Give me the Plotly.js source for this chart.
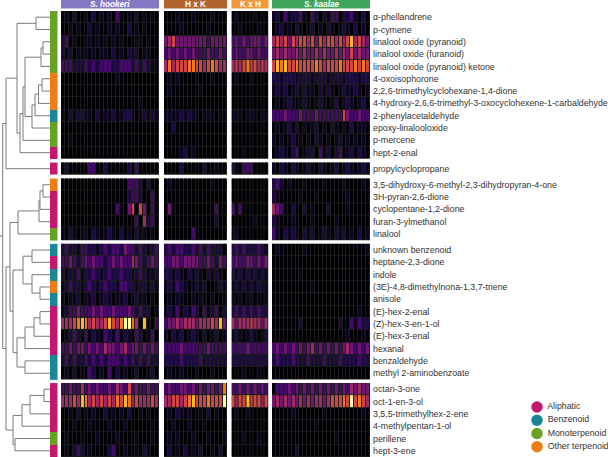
<!DOCTYPE html>
<html><head><meta charset="utf-8">
<script src="https://cdn.plot.ly/plotly-3.0.1.min.js"></script>
<style>html,body{margin:0;padding:0;background:#fff}#chart{width:608px;height:457px}</style>
</head><body><div id="chart"></div>
<script>
const compounds = [
 'α-phellandrene','p-cymene','linalool oxide (pyranoid)','linalool oxide (furanoid)','linalool oxide (pyranoid) ketone',
 '4-oxoisophorone','2,2,6-trimethylcyclohexane-1,4-dione','4-hydroxy-2,6,6-trimethyl-3-oxocyclohexene-1-carbaldehyde',
 '2-phenylacetaldehyde','epoxy-linalooloxide','p-mercene','hept-2-enal',
 'propylcyclopropane',
 '3,5-dihydroxy-6-methyl-2,3-dihydropyran-4-one','3H-pyran-2,6-dione','cyclopentane-1,2-dione','furan-3-ylmethanol','linalool',
 'unknown benzenoid','heptane-2,3-dione','indole','(3E)-4,8-dimethylnona-1,3,7-triene','anisole','(E)-hex-2-enal',
 '(Z)-hex-3-en-1-ol','(E)-hex-3-enal','hexanal','benzaldehyde','methyl 2-aminobenzoate',
 'octan-3-one','oct-1-en-3-ol','3,5,5-trimethylhex-2-ene','4-methylpentan-1-ol','perillene','hept-3-ene'
];
const rowGroupSizes = [12,1,5,11,6];
const categories = ['Aliphatic','Benzenoid','Monoterpenoid','Other terpenoid'];
const categoryColors = ['#c4166f','#1a8696','#68a124','#ef7d16'];
const compoundCategory = [2,2,2,2,2,3,3,3,1,2,2,0, 0, 3,0,0,0,2, 1,0,1,3,1,0,0,0,0,1,1, 0,0,0,0,2,0];
const panels = ['S. hookeri','H x K','K x H','S. kaalae'];
const panelItalic = [true,false,false,true];
const panelColors = ['#8577c4','#b0652f','#f3993c','#3ea55a'];

// intensity levels 0-9, one character per sample column
const hookeriLevels = [
 '0102001020101030010201010','0010100201001010020101000','2301001101010101000110100','2120111010110201021201100',
 '3332223232333223332323211','0000000000000010000000000','0000000000000000000000000','0000000000000000000010000',
 '1021221102011201221012121','0000000000000000000000000','0010000000000000000000000','0000000000000000000000000',
 '0200000330020000020300000',
 '0000000000000000033320200','0000000000000000023320030','0000000000000030046064030','0000000000000000000305230',
 '1021011021012102010211010',
 '2322133221232332433232123','3343234343323434335432343','2122312232123223221232112','1232212321232213322122121',
 '1011201120121011201211010','1233433343433433343232201','5556787565568657997508103','0123213021032130210320130',
 '3343443434354434534434343','2323223232323332323232322','0102010320103020100200120',
 '3343353434334354363433433','5556587565656576875655565','0010201010020101020010100','0001000100001000100000010',
 '0100010001000010000100010','0102320100002300100102100'
];
const hxkLevels = [
 '0001000100001000','0000100000010000','4564444444434444','3434343433343343','5756667766567655',
 '0101000010001000','0100000001000000','0000000000000000','1111212110111011','0020000000000000',
 '0000000000000000','0000120100000000',
 '0000200000200100',
 '0100000000001000','0000000000000000','0400000000000300','0000000000000200','0000000300000000',
 '2323322323232220','3344344443343243','2212102121021210','1213210121200121','0101100101101001',
 '1213021320312302','3445455545556584','1021201210201201','3333433333343333','2222322223222222','0100100010001000',
 '3433443434344347','5566567866676669','0102101001020100','0010001000100000','0101000100010001','0201020102001020'
];
const kxhLevels = [
 '0100001000','0010000100','3434344434','3433443433','5656766565',
 '0100010000','0000000000','0000000000','1110111011','0000000000','0000000000','0001000000',
 '2003330000',
 '0000000000','0000000000','3030000000','0000001000','1100000000',
 '2323222321','3433443434','2121212121','1212121211','1010110101','2323232322','5455565545',
 '1210121012','3333433333','2222222222','0001000100',
 '3343434343','6566866656','0100100000','0000000000','0001000100','0000000000'
];
const kaalaeLevels = [
 '1203122310320213302231020','0120102101201021012102010','5656465665646566565685654','4545445454454544545464544',
 '6878667666676566676667676','2212221222122212221222122','1212012121102121012112101','0101210121012101201210120',
 '3334333433343333336433433','0101202010120102101020110','1010120101021010120101010','0121023012203120230120210',
 '1021021012102101201210121',
 '2310100010000100001000010','2100000100010000000100000','5430020020100020000100000','2100010000100000100000000',
 '3102121021201210212010201',
 '0100000010000000000000001','0000000000000000000000000','0000000100000000000000000','0000000000100000000000000',
 '0000000000000000000000000','0000000000000000000000100','0000000200000000020031322','0000000000000000000100010',
 '3434343434534343434543434','2322232223222322232222322','0000000000000000000000000',
 '0333434343434343434354544','4545454545455456667696765','0000010000000100000000010','0000000000010000000000000',
 '0000000000000000100000000','0000002000000000000000000'
];
const panelLevels = [hookeriLevels, hxkLevels, kxhLevels, kaalaeLevels];
const panelCols = [25,16,10,25];

// dendrogram merges: [childA, childB, height]; leaves 0-34, merge k => node 35+k
const dendroMerges = [
 [0,1,14],[2,3,7],[36,4,9],[5,6,8],[38,7,11.5],[39,8,15],[40,9,18],[37,41,25],[42,10,27],[43,11,30],[35,44,33],[45,12,44],
 [13,14,7],[47,15,10],[48,16,11],[49,17,32],
 [18,19,18],[21,22,10],[20,52,18],[51,53,27],[23,24,10],[55,25,16],[56,26,25],[27,28,25],[57,58,33],[54,59,37],[50,60,40],
 [29,30,6],[62,31,20],[63,32,28],[33,34,35],[64,65,37],[61,66,44],
 [46,67,47.3]
];

// inferno palette, stops stretched so low levels stay dark
const infernoStops = [[0,'#000004'],[0.1,'#160b39'],[0.2,'#420a68'],[0.3,'#6a176e'],[0.4,'#932667'],[0.5,'#bc3754'],
 [0.6,'#dd513a'],[0.7,'#f37819'],[0.8,'#fca50a'],[0.9,'#f6d746'],[1,'#fcffa4']];
const colorscale = infernoStops.map(([v,c])=>[Math.pow(v,1/1.45), c]);

const W = 608, H = 457;
const GAP = 0.3;
const rowY = []; const groupStart = [];
{ let idx = 0; rowGroupSizes.forEach((n,g)=>{ groupStart.push(idx); for(let i=0;i<n;i++){ rowY.push(idx + g*GAP); idx++; } }); }
const yTop = -0.5, yBot = rowY[rowY.length-1] + 0.5;

const panelDomains = [[61,159],[164,227],[231.5,268.5],[272,370]];
const axName = p => p===0 ? 'x' : 'x'+(p+1);

const traces = [];
const shapes = [];
const annotations = [];
rowGroupSizes.forEach((n,g)=>{
  const s = groupStart[g];
  panelLevels.forEach((lev,p)=>{
    const z = [];
    for(let r=s;r<s+n;r++){ z.push(lev[r].split('').map(Number)); }
    traces.push({type:'heatmap', xaxis:axName(p), yaxis:'y', z:z, x0:0, dx:1, y0:rowY[s], dy:1,
      zmin:0, zmax:9, zauto:false, colorscale:colorscale, showscale:false, xgap:1, ygap:1, hoverinfo:'skip'});
    shapes.push({type:'rect', xref:axName(p), yref:'y', x0:-0.5, x1:panelCols[p]-0.5,
      y0:rowY[s]-0.5, y1:rowY[s+n-1]+0.5, fillcolor:'#1c1c1c', line:{width:0}, layer:'below'});
  });
  const zc = [];
  for(let r=s;r<s+n;r++) zc.push([compoundCategory[r]]);
  traces.push({type:'heatmap', xaxis:'x6', yaxis:'y', z:zc, x0:0, dx:1, y0:rowY[s], dy:1, zmin:0, zmax:3,
    colorscale:[[0,categoryColors[0]],[0.1667,categoryColors[0]],[0.1667,categoryColors[1]],[0.5,categoryColors[1]],
      [0.5,categoryColors[2]],[0.8333,categoryColors[2]],[0.8333,categoryColors[3]],[1,categoryColors[3]]],
    showscale:false, hoverinfo:'skip'});
});

// dendrogram
const nodeY = rowY.slice(); const nodeH = rowY.map(()=>0);
const dx = [], dy = [];
dendroMerges.forEach(([a,b,h])=>{
  dx.push(nodeH[a], h, h, nodeH[b], null);
  dy.push(nodeY[a], nodeY[a], nodeY[b], nodeY[b], null);
  nodeY.push((nodeY[a]+nodeY[b])/2); nodeH.push(h);
});
const root = nodeY.length-1;
dx.push(nodeH[root], 50); dy.push(nodeY[root], nodeY[root]);
traces.push({type:'scatter', mode:'lines', xaxis:'x5', yaxis:'y', x:dx, y:dy,
  line:{color:'#7a7a7a', width:1}, hoverinfo:'skip', showlegend:false, connectgaps:false});

// legend
traces.push({type:'scatter', mode:'markers+text', xaxis:'x7', yaxis:'y2', x:categories.map(()=>0),
  y:categories.map((c,i)=>i), text:categories.map(c=>' '+c), textposition:'middle right', cliponaxis:false,
  marker:{size:11.5, color:categoryColors}, textfont:{size:8.8, color:'#333'}, hoverinfo:'skip', showlegend:false});

panels.forEach((name,p)=>{
  shapes.push({type:'rect', xref:axName(p)+' domain', yref:'paper', x0:0, x1:1, y0:1-8.5/H, y1:1,
    fillcolor:panelColors[p], line:{width:0}});
  annotations.push({xref:axName(p)+' domain', yref:'paper', x:0.5, y:1-4.4/H, xanchor:'center', yanchor:'middle',
    text: panelItalic[p] ? '<i>'+name+'</i>' : name, showarrow:false,
    font:{size:8.2, color:'#ffffff', weight:'bold'}});
});

const yDom = [0, 1-11/H];
const layout = {
  width:W, height:H, margin:{l:0,r:0,t:0,b:0}, paper_bgcolor:'#ffffff', plot_bgcolor:'rgba(0,0,0,0)',
  showlegend:false, font:{family:'Liberation Sans, Arial, sans-serif', color:'#333'},
  yaxis:{domain:yDom, range:[yBot,yTop], anchor:'x4', side:'right', tickmode:'array', tickvals:rowY, ticktext:compounds,
    ticks:'', ticklabelstandoff:2, showgrid:false, zeroline:false, showline:false, tickfont:{size:8.8, color:'#333'}},
  yaxis2:{domain:[1-453.3/H, 1-400.4/H], range:[3.5,-0.5], anchor:'x7', visible:false},
  xaxis5:{domain:[0,50/W], range:[50,0], anchor:'y', visible:false},
  xaxis6:{domain:[50/W,57.5/W], range:[-0.5,0.5], anchor:'y', visible:false},
  xaxis7:{domain:[530/W,544/W], range:[-1,1], anchor:'y2', visible:false},
  shapes:shapes, annotations:annotations
};
panelDomains.forEach((d,p)=>{
  const key = p===0 ? 'xaxis' : 'xaxis'+(p+1);
  layout[key] = {domain:[d[0]/W, d[1]/W], range:[-0.5, panelCols[p]-0.5], anchor:'y', visible:false};
});
Plotly.newPlot('chart', traces, layout, {staticPlot:true, displayModeBar:false});
</script></body></html>
